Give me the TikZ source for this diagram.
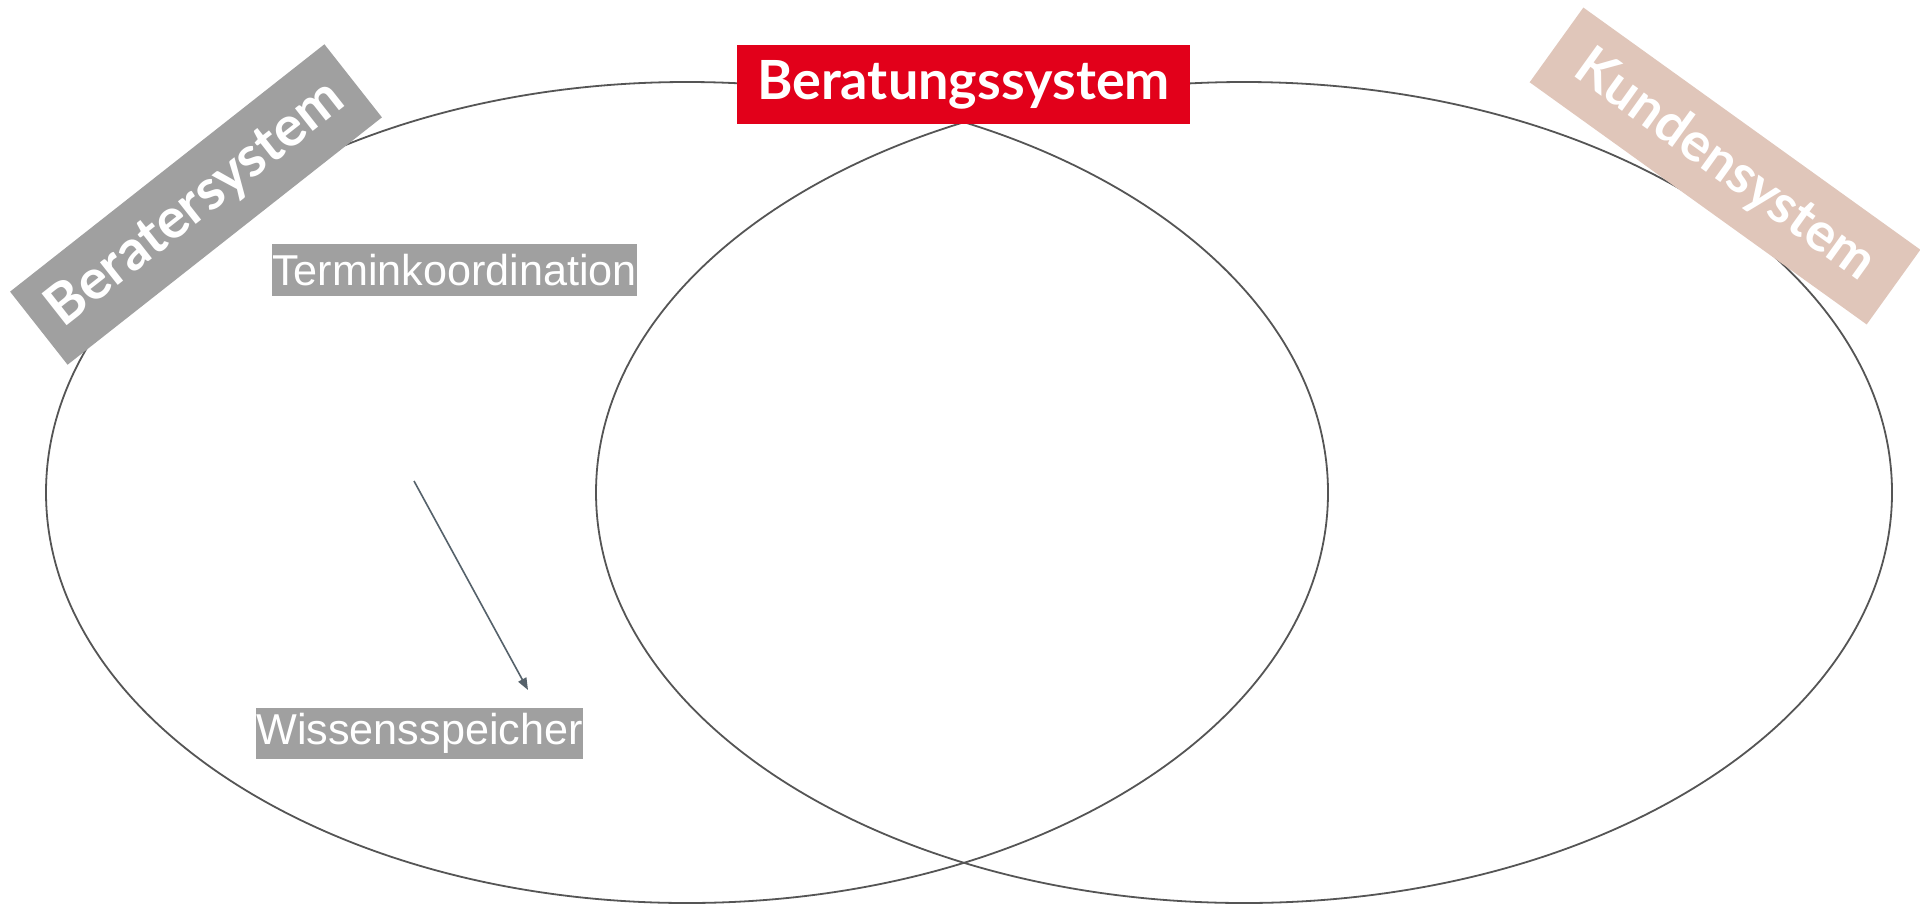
\documentclass[tikz,border=0pt]{standalone}
\usepackage{fontspec}
\setmainfont{Liberation Sans}
\newfontfamily\lato{Lato}
\usetikzlibrary{arrows.meta}
\definecolor{ringline}{HTML}{555555}
\definecolor{tagred}{HTML}{E2001A}
\definecolor{taggrey}{HTML}{A0A0A0}
\definecolor{tagsand}{HTML}{E0C6BA}
\definecolor{arrowslate}{HTML}{56626B}
\begin{document}
\begin{tikzpicture}[x=0.5pt,y=-0.5pt,
  ring/.style={draw=ringline,line width=0.9pt},
  systag/.style={inner sep=0pt,text=white,
    font=\lato\bfseries\fontsize{27pt}{32pt}\selectfont},
  topicbox/.style={fill=taggrey,text=white,inner sep=0pt,
    font=\fontsize{21.6pt}{25pt}\selectfont},
  flow/.style={draw=arrowslate,line width=0.8pt,
    -{Triangle[length=6pt,width=4.5pt]}}]
\useasboundingbox (0,0) rectangle (1920,905);
\fill[white] (0,0) rectangle (1920,905);

% the two overlapping systems
\draw[ring] (687,492.5) ellipse [x radius=641, y radius=410.5];
\draw[ring] (1244,492.5) ellipse [x radius=648, y radius=410.5];

% system labels
\node[systag,fill=tagred,minimum width=226.5pt,minimum height=39.5pt]
  (beratung) at (963.5,84.5) {Beratungssystem};
\node[systag,fill=taggrey,minimum width=200pt,minimum height=46.5pt,rotate=38.2,
  font=\lato\bfseries\fontsize{28pt}{32pt}\selectfont]
  (berater) at (196,204.5) {Beratersystem\hspace{11pt}};
\node[systag,fill=tagsand,minimum width=207.5pt,minimum height=46pt,rotate=-35.7]
  (kunde) at (1725,166) {Kundensystem};

% topics inside the consultant system
\node[topicbox,minimum width=180.5pt,minimum height=26pt]
  (termin) at (454.5,270) {Terminkoordination};
\node[topicbox,minimum width=161.5pt,minimum height=25.5pt]
  (wissen) at (419.5,733.5) {Wissensspeicher};

\coordinate (flowstart) at (414,481);
\coordinate (flowend) at (528,690);
\draw[flow] (flowstart) -- (flowend);
\end{tikzpicture}
\end{document}
